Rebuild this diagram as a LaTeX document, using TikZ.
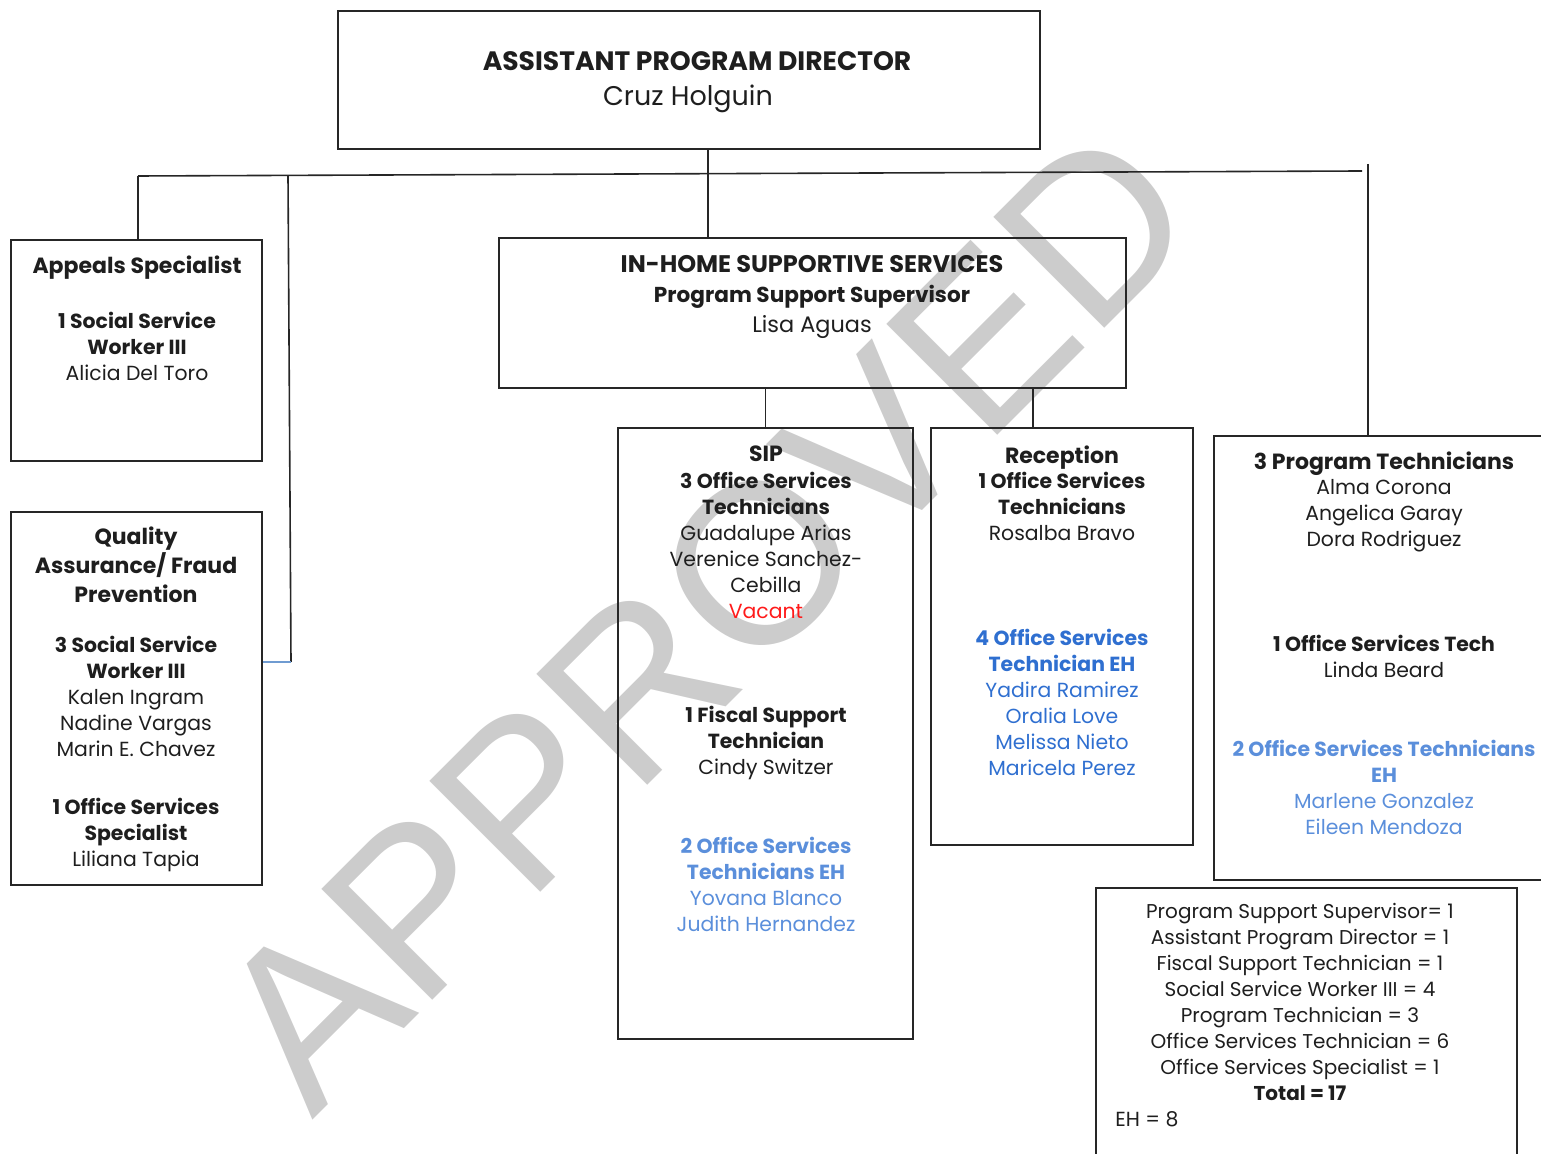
\documentclass[tikz,border=0pt]{standalone}
\usepackage{fontspec}
\setmainfont{Poppins}
\newfontfamily\stampfont{Liberation Sans}
\usetikzlibrary{fit}
\definecolor{inkline}{HTML}{262626}
\definecolor{inktext}{HTML}{1E1E1E}
\definecolor{ehblue}{HTML}{5B8FDB}
\definecolor{ehdark}{HTML}{2F6FD0}
\definecolor{vacred}{HTML}{FF1A1A}
\definecolor{stampgray}{HTML}{CCCCCC}
\definecolor{linkblue}{HTML}{6F9BD1}
\tikzstyle{unit} = [rectangle, draw=inkline, line width=0.8pt, inner sep=0pt]
\tikzstyle{conn} = [draw=inkline, line width=0.8pt]
\tikzstyle{head} = [align=center, inner sep=0pt, anchor=north, text=inktext, font=\bfseries\fontsize{11}{14.5}\selectfont]
\tikzstyle{staff} = [align=center, inner sep=0pt, anchor=north, text=inktext, font=\fontsize{10.2}{13}\selectfont]

\begin{document}
\begin{tikzpicture}[x=0.5pt, y=-0.5pt]
    \clip (0,0) rectangle (1541,1154);
    % watermark behind everything
    \node (stamp) [font=\stampfont\fontsize{114}{114}\selectfont, text=stampgray, rotate=45, anchor=base west, inner sep=0pt] at (312,1121) {APPROVED};

    % boxes
    \node (apd) [unit, fit={(338,11) (1040,149)}] {};
    \node (ihss) [unit, fit={(499,238) (1126,388)}] {};
    \node (appeals) [unit, fit={(11,240) (262,461)}] {};
    \node (qa) [unit, fit={(11,512) (262,885)}] {};
    \node (sip) [unit, fit={(618,428) (913,1039)}] {};
    \node (recep) [unit, fit={(931,428) (1193,845)}] {};
    \node (ptech) [unit, fit={(1214,436) (1560,880)}] {};
    \node (tally) [unit, fit={(1096,888) (1517,1175)}] {};

    % connectors
    \coordinate (apdout) at (708,149);
    \coordinate (busl) at (138,176);
    \coordinate (busr) at (1362,171);
    \coordinate (qadrop) at (288,176);
    \coordinate (qaturn) at (291,662);
    \coordinate (ptdrop) at (1368,164);
    \coordinate (recdrop) at (1033,388);
    \draw [conn] (apdout) -- (apdout |- ihss.north);
    \draw [conn] (busl) -- (busr);
    \draw [conn] (busl) -- (busl |- appeals.north);
    \draw [conn] (qadrop) -- (qaturn);
    \draw [conn, draw=linkblue] (qaturn) -- (qa.east |- qaturn);
    \draw [conn] (ptdrop) -- (ptdrop |- ptech.north);
    \draw [conn] (ihss.south -| sip.north) -- (sip.north);
    \draw [conn] (recdrop) -- (recdrop |- recep.north);

    % top
    \node (apdtitle) [head, font=\bfseries\fontsize{13.3}{17}\selectfont] at (697,51) {ASSISTANT PROGRAM DIRECTOR};
    \node (apdname) [staff, font=\fontsize{13.5}{15}\selectfont] at (688,85) {Cruz Holguin};
    \node (ihsstext) [staff, font=\fontsize{10.8}{15}\selectfont] at (812,255) {\textbf{\fontsize{12}{15}\selectfont IN-HOME SUPPORTIVE SERVICES}\\\textbf{Program Support Supervisor}\\{\fontsize{11.2}{15}\selectfont Lisa Aguas}};

    % appeals and quality assurance
    \node (apptitle) [head] at (137,255) {Appeals Specialist};
    \node (appstaff) [staff] at (137,312) {\textbf{1 Social Service}\\\textbf{Worker III}\\Alicia Del Toro};
    \node (qatitle) [head] at (136,526) {Quality\\Assurance/ Fraud\\Prevention};
    \node (qastaff) [staff] at (136,636) {\textbf{3 Social Service}\\\textbf{Worker III}\\Kalen Ingram\\Nadine Vargas\\Marin E. Chavez};
    \node (qaspec) [staff] at (136,798) {\textbf{1 Office Services}\\\textbf{Specialist}\\Liliana Tapia};

    % SIP
    \node (siptitle) [head] at (766,445) {SIP};
    \node (sipstaff) [staff] at (766,472) {\textbf{3 Office Services}\\\textbf{Technicians}\\Guadalupe Arias\\Verenice Sanchez-\\Cebilla\\\textcolor{vacred}{Vacant}};
    \node (sipfiscal) [staff] at (766,706) {\textbf{1 Fiscal Support}\\\textbf{Technician}\\Cindy Switzer};
    \node (sipeh) [staff, text=ehblue] at (766,837) {\textbf{2 Office Services}\\\textbf{Technicians EH}\\Yovana Blanco\\Judith Hernandez};

    % reception
    \node (rectitle) [head] at (1062,445) {Reception};
    \node (recstaff) [staff] at (1062,472) {\textbf{1 Office Services}\\\textbf{Technicians}\\Rosalba Bravo};
    \node (receh) [staff, text=ehdark] at (1062,629) {\textbf{4 Office Services}\\\textbf{Technician EH}\\Yadira Ramirez\\Oralia Love\\Melissa Nieto\\Maricela Perez};

    % program technicians
    \node (pttitle) [head] at (1384,451) {3 Program Technicians};
    \node (ptstaff) [staff] at (1384,479) {Alma Corona\\Angelica Garay\\Dora Rodriguez};
    \node (ptoffice) [staff] at (1384,635) {\textbf{1 Office Services Tech}\\Linda Beard};
    \node (pteh) [staff, text=ehblue] at (1384,740) {\textbf{2 Office Services Technicians}\\\textbf{EH}\\Marlene Gonzalez\\Eileen Mendoza};

    % totals
    \node (tallytext) [staff, font=\fontsize{10}{13}\selectfont] at (1300,903) {Program Support Supervisor= 1\\Assistant Program Director = 1\\Fiscal Support Technician = 1\\Social Service Worker III = 4\\Program Technician = 3\\Office Services Technician = 6\\Office Services Specialist = 1\\\textbf{Total = 17}};
    \node (tallyeh) [staff, anchor=north west] at (1115,1111) {EH = 8};
\end{tikzpicture}
\end{document}
